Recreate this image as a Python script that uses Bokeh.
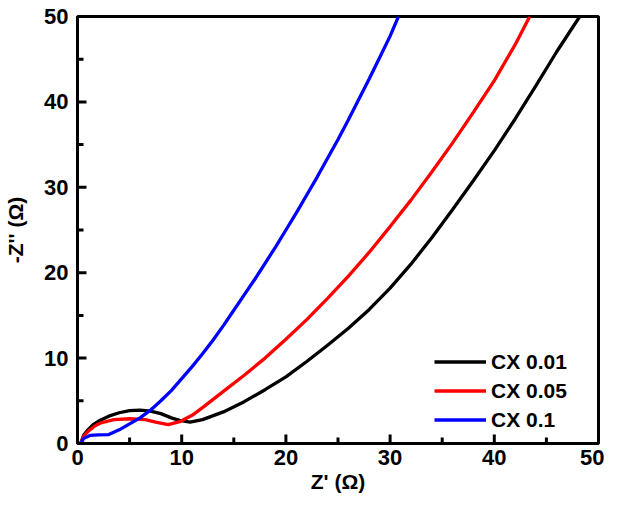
from bokeh.plotting import figure
from bokeh.models import Range1d, FixedTicker, Legend, LegendItem
from bokeh.embed import file_html
from bokeh.resources import INLINE

# Data (Z' vs -Z'')
x_cx001 = [0.3, 0.6, 1.0, 1.5, 2.0, 3.0, 4.0, 5.0, 6.0, 7.0, 8.0, 9.0, 9.8, 10.8, 12.0, 14.0, 16.0, 18.0, 20.0, 22.0, 24.0, 26.0, 28.0, 30.0, 32.0, 34.0, 36.0, 38.0, 40.0, 42.0, 44.0, 46.0, 48.2]
y_cx001 = [0.0, 1.0, 1.6, 2.2, 2.6, 3.2, 3.6, 3.85, 3.9, 3.8, 3.5, 3.0, 2.7, 2.5, 2.8, 3.7, 4.9, 6.3, 7.8, 9.6, 11.5, 13.5, 15.7, 18.2, 21.0, 24.1, 27.4, 30.8, 34.3, 38.0, 41.9, 45.9, 50.0]

x_cx005 = [0.3, 0.6, 1.0, 1.6, 2.2, 3.5, 5.0, 6.5, 7.5, 8.7, 9.9, 11.0, 12.0, 14.0, 16.0, 18.0, 20.0, 22.0, 24.0, 26.0, 28.0, 30.0, 32.0, 34.0, 36.0, 38.0, 40.0, 42.0, 43.4]
y_cx005 = [0.0, 0.9, 1.4, 2.0, 2.4, 2.8, 2.9, 2.8, 2.5, 2.2, 2.6, 3.3, 4.2, 6.1, 8.0, 10.0, 12.2, 14.5, 17.0, 19.6, 22.4, 25.4, 28.5, 31.8, 35.2, 38.8, 42.5, 46.7, 50.0]

x_cx01 = [0.3, 0.6, 1.2, 2.0, 3.0, 4.0, 5.0, 6.0, 7.0, 8.0, 9.0, 10.0, 11.0, 12.0, 13.0, 14.0, 15.0, 16.0, 17.0, 18.0, 19.0, 20.0, 21.0, 22.0, 23.0, 24.0, 25.0, 26.0, 27.0, 28.0, 29.0, 30.0, 30.8]
y_cx01 = [0.0, 0.6, 0.95, 1.0, 1.05, 1.6, 2.3, 3.0, 3.9, 5.0, 6.2, 7.6, 9.0, 10.5, 12.1, 13.8, 15.6, 17.4, 19.2, 21.1, 23.0, 25.0, 27.0, 29.1, 31.2, 33.4, 35.6, 37.9, 40.3, 42.7, 45.2, 47.7, 50.0]

series_labels = ["CX 0.01", "CX 0.05", "CX 0.1"]
series_colors = ["#000000", "#ff0000", "#0000ff"]

major_ticks = [0, 10, 20, 30, 40, 50]
minor_ticks = [5, 15, 25, 35, 45]
axis_min = 0
axis_max = 50

FONT = "Liberation Sans"

W, H = 604, 499
BL, BT, BR, BB = 77, 16, 6, 56

p = figure(width=W, height=H, output_backend="svg", toolbar_location=None,
           x_range=Range1d(axis_min, axis_max), y_range=Range1d(axis_min, axis_max),
           min_border_left=BL, min_border_top=BT, min_border_right=BR, min_border_bottom=BB)

p.grid.visible = False
p.outline_line_color = "black"
p.outline_line_width = 3
p.outline_line_alpha = 1.0

for ax in (p.xaxis[0], p.yaxis[0]):
    ax.ticker = FixedTicker(ticks=major_ticks, minor_ticks=minor_ticks)
    ax.axis_line_width = 3
    ax.axis_line_color = "black"
    ax.major_tick_in = 0
    ax.major_tick_out = 0
    ax.minor_tick_in = 0
    ax.minor_tick_out = 0
    ax.major_label_text_font = FONT
    ax.major_label_text_font_style = "bold"
    ax.major_label_text_font_size = "22px"
    ax.major_label_text_color = "black"
    ax.axis_label_text_font = FONT
    ax.axis_label_text_font_style = "bold"
    ax.axis_label_text_font_size = "21px"
    ax.axis_label_text_color = "black"

p.xaxis.axis_label = "Z' (Ω)"
p.yaxis.axis_label = "-Z'' (Ω)"
p.xaxis.major_label_standoff = 6
p.xaxis.axis_label_standoff = 2
p.yaxis.major_label_standoff = 9
p.yaxis.axis_label_standoff = 14

# inward tick marks as segments (tick length converted from pixels to data units)
px_x = (axis_max - axis_min) / (W - BL - BR)
px_y = (axis_max - axis_min) / (H - BT - BB)
tick_major = 9
tick_minor = 6
p.segment(x0=major_ticks, y0=[axis_min] * len(major_ticks),
          x1=major_ticks, y1=[axis_min + tick_major * px_y] * len(major_ticks),
          line_color="black", line_width=3)
p.segment(x0=minor_ticks, y0=[axis_min] * len(minor_ticks),
          x1=minor_ticks, y1=[axis_min + tick_minor * px_y] * len(minor_ticks),
          line_color="black", line_width=3)
p.segment(x0=[axis_min] * len(major_ticks), y0=major_ticks,
          x1=[axis_min + tick_major * px_x] * len(major_ticks), y1=major_ticks,
          line_color="black", line_width=3)
p.segment(x0=[axis_min] * len(minor_ticks), y0=minor_ticks,
          x1=[axis_min + tick_minor * px_x] * len(minor_ticks), y1=minor_ticks,
          line_color="black", line_width=3)

r1 = p.line(x_cx001, y_cx001, line_color=series_colors[0], line_width=3.3)
r2 = p.line(x_cx005, y_cx005, line_color=series_colors[1], line_width=3.3)
r3 = p.line(x_cx01, y_cx01, line_color=series_colors[2], line_width=3.3)

legend = Legend(items=[LegendItem(label=series_labels[0], renderers=[r1]),
                       LegendItem(label=series_labels[1], renderers=[r2]),
                       LegendItem(label=series_labels[2], renderers=[r3])],
                location=(357, 9))
legend.border_line_color = None
legend.background_fill_alpha = 0
legend.margin = 0
legend.padding = 0
legend.spacing = 0
legend.glyph_width = 52
legend.glyph_height = 29
legend.label_height = 29
legend.label_standoff = 5
legend.label_text_font = FONT
legend.label_text_font_style = "bold"
legend.label_text_font_size = "21px"
legend.label_text_color = "black"
p.add_layout(legend, "center")

open("out.html", "w").write(file_html(p, INLINE))
